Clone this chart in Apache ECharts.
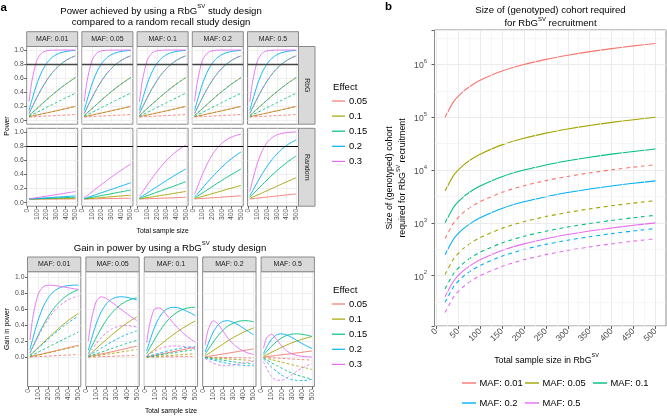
<!DOCTYPE html>
<html><head><meta charset="utf-8">
<script src="https://cdn.jsdelivr.net/npm/echarts@6/dist/echarts.min.js"></script>
<style>html,body{margin:0;padding:0;background:#fff}#c{width:667px;height:416px}</style>
</head><body><div id="c"></div><script>
// ---------------- DATA ----------------
const sampleSize = [20, 50, 100, 150, 200, 250, 300, 350, 400, 450, 500];
const mafLabels = ['MAF: 0.01', 'MAF: 0.05', 'MAF: 0.1', 'MAF: 0.2', 'MAF: 0.5'];
const effectLabels = ['0.05', '0.1', '0.15', '0.2', '0.3'];
const designLabels = ['RbG', 'Random'];
const powerTicks = [0, 0.2, 0.4, 0.6, 0.8, 1.0];
const sampleTicks = [0, 100, 200, 300, 400, 500];
const powerThreshold = 0.8;

// RbG design power (same in every MAF panel)
const rbgSolid_e005 = [0.056,0.065,0.079,0.094,0.109,0.124,0.139,0.155,0.170,0.186,0.201];
const rbgSolid_e010 = [0.073,0.109,0.170,0.232,0.293,0.353,0.410,0.465,0.516,0.564,0.609];
const rbgSolid_e015 = [0.103,0.186,0.323,0.451,0.564,0.660,0.738,0.801,0.851,0.889,0.918];
const rbgSolid_e020 = [0.145,0.293,0.516,0.688,0.807,0.885,0.934,0.963,0.979,0.989,0.994];
const rbgSolid_e030 = [0.269,0.564,0.851,0.957,0.989,0.997,0.999,1.000,1.000,1.000,1.000];
const rbgDashed_e005 = [0.051,0.054,0.057,0.061,0.065,0.068,0.072,0.076,0.079,0.083,0.087];
const rbgDashed_e010 = [0.056,0.065,0.079,0.094,0.109,0.124,0.139,0.155,0.170,0.186,0.201];
const rbgDashed_e015 = [0.063,0.083,0.116,0.151,0.186,0.220,0.255,0.289,0.323,0.356,0.389];
const rbgDashed_e020 = [0.073,0.109,0.170,0.232,0.293,0.353,0.410,0.465,0.516,0.564,0.609];
const rbgDashed_e030 = [0.103,0.186,0.323,0.451,0.564,0.660,0.738,0.801,0.851,0.889,0.918];

// Random recall design power, one list per effect (0.05,0.1,0.15,0.2,0.3)
const random_maf001 = [
  [0.050,0.050,0.050,0.051,0.051,0.051,0.051,0.052,0.052,0.052,0.053],
  [0.050,0.051,0.052,0.054,0.055,0.056,0.057,0.058,0.059,0.061,0.062],
  [0.051,0.053,0.055,0.058,0.060,0.063,0.066,0.068,0.071,0.074,0.076],
  [0.052,0.055,0.059,0.064,0.069,0.073,0.078,0.082,0.087,0.092,0.096],
  [0.054,0.060,0.071,0.081,0.092,0.102,0.113,0.124,0.135,0.146,0.157]];
const random_maf005 = [
  [0.050,0.051,0.053,0.054,0.056,0.057,0.058,0.060,0.061,0.062,0.064],
  [0.052,0.056,0.061,0.066,0.072,0.078,0.083,0.089,0.094,0.100,0.106],
  [0.055,0.062,0.075,0.088,0.100,0.113,0.126,0.139,0.152,0.165,0.178],
  [0.059,0.072,0.094,0.117,0.141,0.163,0.187,0.210,0.233,0.257,0.280],
  [0.070,0.100,0.152,0.205,0.258,0.310,0.360,0.409,0.456,0.501,0.543]];
const random_maf01 = [
  [0.051,0.053,0.055,0.058,0.060,0.063,0.066,0.068,0.071,0.074,0.076],
  [0.054,0.060,0.071,0.081,0.092,0.103,0.113,0.125,0.136,0.147,0.158],
  [0.059,0.074,0.098,0.122,0.147,0.171,0.197,0.221,0.246,0.271,0.296],
  [0.067,0.092,0.136,0.180,0.224,0.269,0.313,0.355,0.396,0.436,0.476],
  [0.088,0.147,0.246,0.344,0.436,0.521,0.597,0.663,0.721,0.770,0.812]];
const random_maf02 = [
  [0.052,0.055,0.059,0.064,0.069,0.073,0.078,0.083,0.087,0.092,0.097],
  [0.057,0.069,0.087,0.107,0.126,0.146,0.165,0.185,0.204,0.224,0.244],
  [0.067,0.092,0.136,0.180,0.224,0.269,0.313,0.355,0.396,0.436,0.476],
  [0.080,0.126,0.204,0.283,0.359,0.431,0.500,0.562,0.619,0.670,0.715],
  [0.118,0.224,0.396,0.547,0.670,0.765,0.836,0.888,0.924,0.950,0.967]];
const random_maf05 = [
  [0.053,0.057,0.065,0.072,0.079,0.087,0.094,0.102,0.109,0.116,0.124],
  [0.062,0.079,0.109,0.139,0.170,0.201,0.232,0.263,0.293,0.323,0.353],
  [0.076,0.116,0.186,0.255,0.323,0.389,0.451,0.510,0.564,0.614,0.660],
  [0.097,0.170,0.293,0.410,0.516,0.609,0.688,0.754,0.807,0.851,0.885],
  [0.158,0.323,0.564,0.738,0.851,0.918,0.957,0.977,0.989,0.995,0.997]];

// Gain in power, one list per effect
const gainSolid_maf001 = [
  [0.006,0.015,0.029,0.043,0.058,0.073,0.088,0.103,0.118,0.134,0.148],
  [0.023,0.058,0.118,0.178,0.238,0.297,0.353,0.407,0.457,0.503,0.547],
  [0.052,0.133,0.268,0.393,0.504,0.597,0.672,0.733,0.780,0.815,0.842],
  [0.093,0.238,0.457,0.624,0.738,0.812,0.856,0.881,0.892,0.897,0.898],
  [0.215,0.504,0.780,0.876,0.897,0.895,0.886,0.876,0.865,0.854,0.843]];
const gainDashed_maf001 = [
  [0.001,0.004,0.007,0.010,0.014,0.017,0.021,0.024,0.027,0.031,0.034],
  [0.006,0.014,0.027,0.040,0.054,0.068,0.082,0.097,0.111,0.125,0.139],
  [0.012,0.030,0.061,0.093,0.126,0.157,0.189,0.221,0.252,0.282,0.313],
  [0.021,0.054,0.111,0.168,0.224,0.280,0.332,0.383,0.429,0.472,0.513],
  [0.049,0.126,0.252,0.370,0.472,0.558,0.625,0.677,0.716,0.743,0.761]];
const gainSolid_maf005 = [
  [0.006,0.014,0.026,0.040,0.053,0.067,0.081,0.095,0.109,0.124,0.137],
  [0.021,0.053,0.109,0.166,0.221,0.275,0.327,0.376,0.422,0.464,0.503],
  [0.048,0.124,0.248,0.363,0.464,0.547,0.612,0.662,0.699,0.724,0.740],
  [0.086,0.221,0.422,0.571,0.666,0.722,0.747,0.753,0.746,0.732,0.714],
  [0.199,0.464,0.699,0.752,0.731,0.687,0.639,0.591,0.544,0.499,0.457]];
const gainDashed_maf005 = [
  [0.001,0.003,0.004,0.007,0.009,0.011,0.014,0.016,0.018,0.021,0.023],
  [0.004,0.009,0.018,0.028,0.037,0.046,0.056,0.066,0.076,0.086,0.095],
  [0.008,0.021,0.041,0.063,0.086,0.107,0.129,0.150,0.171,0.191,0.211],
  [0.014,0.037,0.076,0.115,0.152,0.190,0.223,0.255,0.283,0.307,0.329],
  [0.033,0.086,0.171,0.246,0.306,0.350,0.378,0.392,0.395,0.388,0.375]];
const gainSolid_maf01 = [
  [0.005,0.012,0.024,0.036,0.049,0.061,0.073,0.087,0.099,0.112,0.125],
  [0.019,0.049,0.099,0.151,0.201,0.250,0.297,0.340,0.380,0.417,0.451],
  [0.044,0.112,0.225,0.329,0.417,0.489,0.541,0.580,0.605,0.618,0.622],
  [0.078,0.201,0.380,0.508,0.583,0.616,0.621,0.608,0.583,0.553,0.518],
  [0.181,0.417,0.605,0.613,0.553,0.476,0.402,0.337,0.279,0.230,0.188]];
const gainDashed_maf01 = [
  [0.000,0.001,0.002,0.003,0.005,0.005,0.006,0.008,0.008,0.009,0.011],
  [0.002,0.005,0.008,0.013,0.017,0.021,0.026,0.030,0.034,0.039,0.043],
  [0.004,0.009,0.018,0.029,0.039,0.049,0.058,0.068,0.077,0.085,0.093],
  [0.006,0.017,0.034,0.052,0.069,0.084,0.097,0.110,0.120,0.128,0.133],
  [0.015,0.039,0.077,0.107,0.128,0.139,0.141,0.138,0.130,0.119,0.106]];
const gainSolid_maf02 = [
  [0.004,0.010,0.020,0.030,0.040,0.051,0.061,0.072,0.083,0.094,0.104],
  [0.016,0.040,0.083,0.125,0.167,0.207,0.245,0.280,0.312,0.340,0.365],
  [0.036,0.094,0.187,0.271,0.340,0.391,0.425,0.446,0.455,0.453,0.442],
  [0.065,0.167,0.312,0.405,0.448,0.454,0.434,0.401,0.360,0.319,0.279],
  [0.151,0.340,0.455,0.410,0.319,0.232,0.163,0.112,0.076,0.050,0.033]];
const gainDashed_maf02 = [
  [-0.001,-0.001,-0.002,-0.003,-0.004,-0.005,-0.006,-0.007,-0.008,-0.009,-0.010],
  [-0.001,-0.004,-0.008,-0.013,-0.017,-0.022,-0.026,-0.030,-0.034,-0.038,-0.043],
  [-0.004,-0.009,-0.020,-0.029,-0.038,-0.049,-0.058,-0.066,-0.073,-0.080,-0.087],
  [-0.007,-0.017,-0.034,-0.051,-0.066,-0.078,-0.090,-0.097,-0.103,-0.106,-0.106],
  [-0.015,-0.038,-0.073,-0.096,-0.106,-0.105,-0.098,-0.087,-0.073,-0.061,-0.049]];
const gainSolid_maf05 = [
  [0.003,0.008,0.014,0.022,0.030,0.037,0.045,0.053,0.061,0.070,0.077],
  [0.011,0.030,0.061,0.093,0.123,0.152,0.178,0.202,0.223,0.241,0.256],
  [0.027,0.070,0.137,0.196,0.241,0.271,0.287,0.291,0.287,0.275,0.258],
  [0.048,0.123,0.223,0.278,0.291,0.276,0.246,0.209,0.172,0.138,0.109],
  [0.111,0.241,0.287,0.219,0.138,0.079,0.042,0.023,0.011,0.005,0.003]];
const gainDashed_maf05 = [
  [-0.002,-0.003,-0.008,-0.011,-0.014,-0.019,-0.022,-0.026,-0.030,-0.033,-0.037],
  [-0.006,-0.014,-0.030,-0.045,-0.061,-0.077,-0.093,-0.108,-0.123,-0.137,-0.152],
  [-0.013,-0.033,-0.070,-0.104,-0.137,-0.169,-0.196,-0.221,-0.241,-0.258,-0.271],
  [-0.024,-0.061,-0.123,-0.178,-0.223,-0.256,-0.278,-0.289,-0.291,-0.287,-0.276],
  [-0.055,-0.137,-0.241,-0.287,-0.287,-0.258,-0.219,-0.176,-0.138,-0.106,-0.079]];

// Panel b: cohort size required
const cohortSampleSize = [20, 40, 60, 80, 100, 150, 200, 250, 300, 350, 400, 450, 500];
const cohortSolid_maf001 = [100000,200000,300000,400000,500000,750000,1000000,1250000,1500000,1750000,2000000,2250000,2500000];
const cohortSolid_maf005 = [4000,8000,12000,16000,20000,30000,40000,50000,60000,70000,80000,90000,100000];
const cohortSolid_maf01 = [1000,2000,3000,4000,5000,7500,10000,12500,15000,17500,20000,22500,25000];
const cohortSolid_maf02 = [250,500,750,1000,1250,1875,2500,3125,3750,4375,5000,5625,6250];
const cohortSolid_maf05 = [40,80,120,160,200,300,400,500,600,700,800,900,1000];
const cohortDashed_maf001 = [505,1010,1515,2020,2525,3788,5051,6313,7576,8838,10101,11364,12626];
const cohortDashed_maf005 = [105,211,316,421,526,789,1053,1316,1579,1842,2105,2368,2632];
const cohortDashed_maf01 = [56,111,167,222,278,417,556,694,833,972,1111,1250,1389];
const cohortDashed_maf02 = [31,63,94,125,156,234,313,391,469,547,625,703,781];
const cohortDashed_maf05 = [20,40,60,80,100,150,200,250,300,350,400,450,500];
const cohortXTicks = [0,50,100,150,200,250,300,350,400,450,500];
const cohortYTickExponents = [2,3,4,5,6];

// ---------------- BUILD ----------------
const FONT = '"Liberation Sans", Arial, Helvetica, sans-serif';
const colors = ['#F8766D', '#A3A500', '#00BF7D', '#00B0F6', '#E76BF3'];
const rbgSolid = [rbgSolid_e005, rbgSolid_e010, rbgSolid_e015, rbgSolid_e020, rbgSolid_e030];
const rbgDashed = [rbgDashed_e005, rbgDashed_e010, rbgDashed_e015, rbgDashed_e020, rbgDashed_e030];
const randomByMaf = [random_maf001, random_maf005, random_maf01, random_maf02, random_maf05];
const gainSolidByMaf = [gainSolid_maf001, gainSolid_maf005, gainSolid_maf01, gainSolid_maf02, gainSolid_maf05];
const gainDashedByMaf = [gainDashed_maf001, gainDashed_maf005, gainDashed_maf01, gainDashed_maf02, gainDashed_maf05];
const cohortSolid = [cohortSolid_maf001, cohortSolid_maf005, cohortSolid_maf01, cohortSolid_maf02, cohortSolid_maf05];
const cohortDashed = [cohortDashed_maf001, cohortDashed_maf005, cohortDashed_maf01, cohortDashed_maf02, cohortDashed_maf05];

const grid = [], xAxis = [], yAxis = [], series = [], graphic = [];
const BORDER = '#8a8a8a', GRIDC = '#ebebeb', TICKC = '#4d4d4d';

function addGrid(left, top, width, height, xo, yo) {
  const i = grid.length;
  grid.push({left, top, width, height, show: true, borderColor: BORDER, borderWidth: 1, backgroundColor: '#fff'});
  xAxis.push(Object.assign({gridIndex: i}, xo));
  yAxis.push(Object.assign({gridIndex: i}, yo));
  return i;
}
function near(list, v, eps) { return list.some(t => Math.abs(t - v) < eps); }
function sampleAxis(show) {
  return {type: 'value', min: -4, max: 524, splitNumber: 10, position: 'bottom',
    axisLine: {show: false, onZero: false},
    axisTick: {show: show, length: 2.5, customValues: sampleTicks, lineStyle: {color: '#333', width: 0.8}},
    axisLabel: {show: show, customValues: sampleTicks, rotate: 90, fontSize: 6.8, color: TICKC, margin: 2.5, fontFamily: FONT,
      formatter: v => near(sampleTicks, v, 1e-6) ? String(Math.round(v)) : ''},
    splitLine: {show: true, lineStyle: {color: GRIDC, width: 0.8}}};
}
function powerAxis(min, max, split, show) {
  return {type: 'value', min, max, splitNumber: split, position: 'left',
    axisLine: {show: false, onZero: false},
    axisTick: {show: show, length: 2.5, customValues: powerTicks, lineStyle: {color: '#333', width: 0.8}},
    axisLabel: {show: show, customValues: powerTicks, fontSize: 6.8, color: TICKC, margin: 3, fontFamily: FONT,
      formatter: v => near(powerTicks, v, 1e-6) ? v.toFixed(1) : ''},
    splitLine: {show: true, lineStyle: {color: GRIDC, width: 0.8}}};
}
function addLine(gi, xs, ys, color, dashed, width, extra) {
  const s = {type: 'line', xAxisIndex: gi, yAxisIndex: gi, data: xs.map((x, k) => [x, ys[k]]),
    showSymbol: false, symbol: 'none', smooth: 0.25, silent: true, z: 3,
    lineStyle: {color, width, type: dashed ? [2.6, 2.2] : 'solid'}};
  series.push(Object.assign(s, extra || {}));
}
function hline(color, width) {
  return {markLine: {symbol: 'none', silent: true, animation: false, label: {show: false},
    lineStyle: {color, width, type: 'solid'}, data: [{yAxis: powerThreshold}]}};
}

// Panel a: top facet
const aLefts = [26.7, 81.9, 137.1, 192.3, 247.5], aW = 51;
const rbgTop = 46.5, rbgH = 77.7, rndTop = 128.3, rndH = 77.9;
for (let c = 0; c < 5; c++) {
  const g1 = addGrid(aLefts[c], rbgTop, aW, rbgH, sampleAxis(false), powerAxis(-0.05, 1.05, 11, c === 0));
  for (let e = 0; e < 5; e++) addLine(g1, sampleSize, rbgSolid[e], colors[e], false, 0.9);
  for (let e = 0; e < 5; e++) addLine(g1, sampleSize, rbgDashed[e], colors[e], true, 0.9, e === 4 ? hline('#444', 1.4) : null);
  const g2 = addGrid(aLefts[c], rndTop, aW, rndH, sampleAxis(true), powerAxis(-0.05, 1.05, 11, c === 0));
  for (let e = 0; e < 5; e++) addLine(g2, sampleSize, randomByMaf[c][e], colors[e], false, 0.9, e === 4 ? hline('#000', 1) : null);
}
// Panel a: gain facet
const gLefts = [27.5, 85.9, 144.3, 202.7, 261.1], gW = 53.3, gTop = 271.7, gH = 114.8;
for (let c = 0; c < 5; c++) {
  const g = addGrid(gLefts[c], gTop, gW, gH, sampleAxis(true), powerAxis(-0.365, 1.065, 14, c === 0));
  for (let e = 0; e < 5; e++) addLine(g, sampleSize, gainSolidByMaf[c][e], colors[e], false, 0.9);
  for (let e = 0; e < 5; e++) addLine(g, sampleSize, gainDashedByMaf[c][e], colors[e], true, 0.9);
}
// Panel b
const bLeft = 434.5, bTop = 30, bW = 231.5, bH = 296;
const gb = addGrid(bLeft, bTop, bW, bH,
  {type: 'value', min: -4, max: 524, splitNumber: 10, position: 'bottom',
   axisLine: {show: false, onZero: false},
   axisTick: {show: true, length: 3, customValues: cohortXTicks, lineStyle: {color: '#333', width: 0.8}},
   axisLabel: {customValues: cohortXTicks, rotate: 45, fontSize: 8.6, color: TICKC, margin: 4, fontFamily: FONT,
     formatter: v => near(cohortXTicks, v, 1e-6) ? String(Math.round(v)) : ''},
   splitLine: {show: true, lineStyle: {color: GRIDC, width: 1}}},
  {type: 'log', logBase: 10, min: Math.pow(10, 1.046), max: Math.pow(10, 6.653), position: 'left',
   axisLine: {show: false, onZero: false},
   axisTick: {show: true, length: 3, lineStyle: {color: '#333', width: 0.8}},
   axisLabel: {fontSize: 8.6, color: TICKC, margin: 7.5, fontFamily: FONT,
     formatter: v => { const e = Math.log10(v); const r = Math.round(e);
       return (Math.abs(e - r) < 1e-6 && cohortYTickExponents.indexOf(r) >= 0) ? '{b|10}{s|' + r + '}' : ''; },
     rich: {b: {fontSize: 8.6, color: TICKC, fontFamily: FONT, verticalAlign: 'bottom', lineHeight: 12},
            s: {fontSize: 6, color: TICKC, fontFamily: FONT, verticalAlign: 'top', lineHeight: 12}}},
   splitLine: {show: true, lineStyle: {color: GRIDC, width: 1}}});
// minor grid lines for panel b
const minorMarks = [];
for (let v = 25; v < 524; v += 50) minorMarks.push({xAxis: v});
for (let p = 1.5; p < 6.65; p += 1) minorMarks.push({yAxis: Math.pow(10, p)});
series.push({type: 'line', xAxisIndex: gb, yAxisIndex: gb, data: [], silent: true, z: 1,
  markLine: {symbol: 'none', silent: true, animation: false, label: {show: false},
    lineStyle: {color: '#f2f2f2', width: 0.7, type: 'solid'}, data: minorMarks}});
for (let m = 0; m < 5; m++) addLine(gb, cohortSampleSize, cohortSolid[m], colors[m], false, 1.1, {smooth: 0.2});
for (let m = 0; m < 5; m++) addLine(gb, cohortSampleSize, cohortDashed[m], colors[m], true, 1.1, {smooth: 0.2, lineStyle: {color: colors[m], width: 1.1, type: [4, 3.5]}});

// ---------------- GRAPHIC TEXT / STRIPS / LEGENDS ----------------
function txt(x, y, text, o) {
  o = o || {};
  graphic.push({type: 'text', x, y, rotation: o.rot || 0, silent: true, z: 20,
    style: {text, fontSize: o.size || 7, fontFamily: FONT, fontWeight: o.weight || 'normal', fill: o.fill || '#000',
      align: o.align || 'center', verticalAlign: o.valign || 'middle', rich: o.rich}});
}
function rect(x, y, w, h) {
  graphic.push({type: 'rect', silent: true, z: 15, shape: {x, y, width: w, height: h},
    style: {fill: '#d9d9d9', stroke: BORDER, lineWidth: 1}});
}
function seg(x1, y1, x2, y2, color, w, dash) {
  graphic.push({type: 'line', silent: true, z: 20, shape: {x1, y1, x2, y2},
    style: {stroke: color, lineWidth: w, lineDash: dash || null}});
}
function richSup(size) {
  return {b: {fontSize: size, fontFamily: FONT, fill: '#000', color: '#000', verticalAlign: 'bottom', lineHeight: size + 3},
          s: {fontSize: size * 0.62, fontFamily: FONT, fill: '#000', color: '#000', verticalAlign: 'top', lineHeight: size + 3}};
}
// labels a / b
txt(0.5, 7.5, 'a', {size: 11.5, weight: 'bold', align: 'left'});
txt(385, 6.5, 'b', {size: 11.5, weight: 'bold', align: 'left'});
// panel a titles
txt(161, 10, '{b|Power achieved by using a RbG}{s|SV}{b| study design}', {rich: richSup(9.6)});
txt(161, 22.5, 'compared to a random recall study design', {size: 9.6});
txt(170, 247, '{b|Gain in power by using a RbG}{s|SV}{b| study design}', {rich: richSup(9.6)});
// strips
for (let c = 0; c < 5; c++) {
  rect(aLefts[c], 31.7, aW, 14.8);
  txt(aLefts[c] + aW / 2, 39.1, mafLabels[c], {size: 7, fill: '#1a1a1a'});
  rect(gLefts[c], 257, gW, 14.7);
  txt(gLefts[c] + gW / 2, 264.4, mafLabels[c], {size: 7, fill: '#1a1a1a'});
}
const stripX = aLefts[4] + aW, stripW = 16.5;
rect(stripX, rbgTop, stripW, rbgH);
txt(stripX + stripW / 2, rbgTop + rbgH / 2, designLabels[0], {size: 7, fill: '#1a1a1a', rot: -Math.PI / 2});
rect(stripX, rndTop, stripW, rndH);
txt(stripX + stripW / 2, rndTop + rndH / 2, designLabels[1], {size: 7, fill: '#1a1a1a', rot: -Math.PI / 2});
// axis titles panel a
txt(7, 126, 'Power', {size: 6.8, rot: Math.PI / 2});
txt(162.6, 231.5, 'Total sample size', {size: 6.8});
txt(7, 329, 'Gain in power', {size: 6.8, rot: Math.PI / 2});
txt(171, 411.5, 'Total sample size', {size: 6.8});
// Effect legends
function effectLegend(y0) {
  txt(333, y0, 'Effect', {size: 9.6, align: 'left'});
  for (let e = 0; e < 5; e++) {
    const y = y0 + 14 + e * 15.1;
    seg(332, y, 345, y, colors[e], 1.2);
    txt(349, y, effectLabels[e], {size: 9.4, align: 'left'});
  }
}
effectLegend(87);
effectLegend(290);
// panel b titles
txt(550.5, 10, 'Size of (genotyped) cohort required', {size: 9.6});
txt(550.5, 22.5, '{b|for RbG}{s|SV}{b| recruitment}', {rich: richSup(9.6)});
txt(390, 178, 'Size of (genotyped) cohort', {size: 8.8, rot: Math.PI / 2});
txt(401.5, 178, '{b|required for RbG}{s|SV}{b| recruitment}', {rot: Math.PI / 2, rich: richSup(8.8)});
txt(546.5, 359, '{b|Total sample size in RbG}{s|SV}', {rich: richSup(8.8)});
// panel b legend
const legPos = [[462, 383], [525, 383], [593, 383], [462, 403], [525, 403]];
for (let m = 0; m < 5; m++) {
  const [lx, ly] = legPos[m];
  seg(lx, ly, lx + 14, ly, colors[m], 1.4);
  txt(lx + 17.5, ly, mafLabels[m], {size: 9.4, align: 'left'});
}

const chart = echarts.init(document.getElementById('c'), null, {renderer: 'canvas'});
chart.setOption({animation: false, backgroundColor: '#fff', textStyle: {fontFamily: FONT},
  grid, xAxis, yAxis, series, graphic});
</script></body></html>
